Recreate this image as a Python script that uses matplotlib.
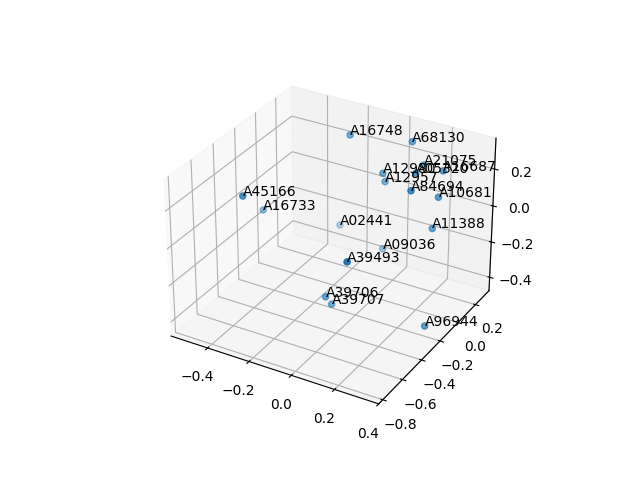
import matplotlib
matplotlib.use("Agg")
import matplotlib.pyplot as plt

names = ['A16748', 'A68130', 'A21075', 'A16687', 'A12980', 'A05320', 'A12957', 'A84694', 'A10681',
         'A45166', 'A16733', 'A02441', 'A11388', 'A09036', 'A39493', 'A39706', 'A39707', 'A96944']
xs = [-0.141, 0.11, 0.162, 0.288, 0.024, 0.194, 0.013, 0.271, 0.298, -0.33, -0.459, -0.255, 0.283, -0.011, 0.198, -0.025, -0.024, 0.38]
ys = [0.041, 0.133, 0.143, 0.052, 0.021, -0.021, 0.071, -0.249, -0.016, -0.612, -0.178, 0.184, -0.038, 0.11, -0.717, -0.452, -0.394, -0.327]
zs = [0.355, 0.355, 0.243, 0.289, 0.209, 0.279, 0.139, 0.312, 0.183, 0.257, -0.054, -0.238, 0.021, -0.257, 0.137, -0.256, -0.326, -0.335]

fig = plt.figure()
ax = fig.add_subplot(projection='3d')
ax.scatter(xs, ys, zs)
for x, y, z, name in zip(xs, ys, zs, names):
    ax.text(x, y, z, name)

ax.set_xlim(-0.58, 0.4)
ax.set_ylim(-0.84, 0.36)
ax.set_zlim(-0.477, 0.365)
ax.set_xticks([-0.4, -0.2, 0.0, 0.2, 0.4])
ax.set_yticks([-0.8, -0.6, -0.4, -0.2, 0.0, 0.2])
ax.set_zticks([-0.4, -0.2, 0.0, 0.2])

fig.savefig('out.png', dpi=100)
